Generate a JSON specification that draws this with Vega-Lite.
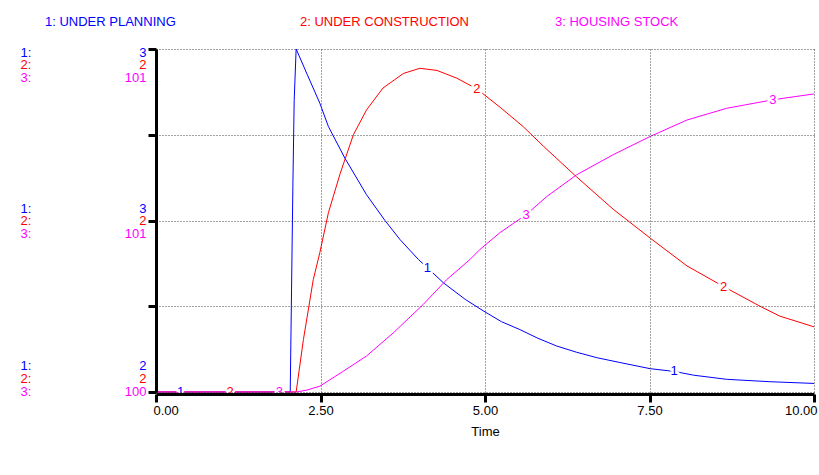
{
  "$schema": "https://vega.github.io/schema/vega-lite/v6.json",
  "width": 658,
  "height": 343,
  "autosize": "none",
  "padding": {"left": 156, "top": 49, "right": 5, "bottom": 83},
  "background": "white",
  "datasets": {
    "lines": [
      {"series": "1: UNDER PLANNING", "Time": 0, "value": 2},
      {"series": "1: UNDER PLANNING", "Time": 0.5, "value": 2},
      {"series": "1: UNDER PLANNING", "Time": 1, "value": 2},
      {"series": "1: UNDER PLANNING", "Time": 1.5, "value": 2},
      {"series": "1: UNDER PLANNING", "Time": 2.04, "value": 2},
      {"series": "1: UNDER PLANNING", "Time": 2.06, "value": 2.3},
      {"series": "1: UNDER PLANNING", "Time": 2.08, "value": 2.6},
      {"series": "1: UNDER PLANNING", "Time": 2.1, "value": 2.85},
      {"series": "1: UNDER PLANNING", "Time": 2.13, "value": 3},
      {"series": "1: UNDER PLANNING", "Time": 2.3, "value": 2.925},
      {"series": "1: UNDER PLANNING", "Time": 2.49, "value": 2.842},
      {"series": "1: UNDER PLANNING", "Time": 2.62, "value": 2.774},
      {"series": "1: UNDER PLANNING", "Time": 2.87, "value": 2.682},
      {"series": "1: UNDER PLANNING", "Time": 3.2, "value": 2.575},
      {"series": "1: UNDER PLANNING", "Time": 3.48, "value": 2.5},
      {"series": "1: UNDER PLANNING", "Time": 3.71, "value": 2.444},
      {"series": "1: UNDER PLANNING", "Time": 3.99, "value": 2.386},
      {"series": "1: UNDER PLANNING", "Time": 4.125, "value": 2.362},
      {"series": "1: UNDER PLANNING", "Time": 4.37, "value": 2.318},
      {"series": "1: UNDER PLANNING", "Time": 4.7, "value": 2.27},
      {"series": "1: UNDER PLANNING", "Time": 4.97, "value": 2.237},
      {"series": "1: UNDER PLANNING", "Time": 5.25, "value": 2.205},
      {"series": "1: UNDER PLANNING", "Time": 5.53, "value": 2.182},
      {"series": "1: UNDER PLANNING", "Time": 5.8, "value": 2.157},
      {"series": "1: UNDER PLANNING", "Time": 6.09, "value": 2.134},
      {"series": "1: UNDER PLANNING", "Time": 6.39, "value": 2.116},
      {"series": "1: UNDER PLANNING", "Time": 6.7, "value": 2.1},
      {"series": "1: UNDER PLANNING", "Time": 7.05, "value": 2.086},
      {"series": "1: UNDER PLANNING", "Time": 7.51, "value": 2.068},
      {"series": "1: UNDER PLANNING", "Time": 7.875, "value": 2.06},
      {"series": "1: UNDER PLANNING", "Time": 8.17, "value": 2.049},
      {"series": "1: UNDER PLANNING", "Time": 8.67, "value": 2.037},
      {"series": "1: UNDER PLANNING", "Time": 9.33, "value": 2.03},
      {"series": "1: UNDER PLANNING", "Time": 10, "value": 2.025},

      {"series": "2: UNDER CONSTRUCTION", "Time": 0, "value": 1.6},
      {"series": "2: UNDER CONSTRUCTION", "Time": 1, "value": 1.6},
      {"series": "2: UNDER CONSTRUCTION", "Time": 2.13, "value": 1.6},
      {"series": "2: UNDER CONSTRUCTION", "Time": 2.24, "value": 1.722},
      {"series": "2: UNDER CONSTRUCTION", "Time": 2.39, "value": 1.862},
      {"series": "2: UNDER CONSTRUCTION", "Time": 2.49, "value": 1.925},
      {"series": "2: UNDER CONSTRUCTION", "Time": 2.62, "value": 2.018},
      {"series": "2: UNDER CONSTRUCTION", "Time": 2.8, "value": 2.11},
      {"series": "2: UNDER CONSTRUCTION", "Time": 3.0, "value": 2.2},
      {"series": "2: UNDER CONSTRUCTION", "Time": 3.2, "value": 2.258},
      {"series": "2: UNDER CONSTRUCTION", "Time": 3.45, "value": 2.309},
      {"series": "2: UNDER CONSTRUCTION", "Time": 3.76, "value": 2.343},
      {"series": "2: UNDER CONSTRUCTION", "Time": 4.01, "value": 2.355},
      {"series": "2: UNDER CONSTRUCTION", "Time": 4.27, "value": 2.35},
      {"series": "2: UNDER CONSTRUCTION", "Time": 4.57, "value": 2.332},
      {"series": "2: UNDER CONSTRUCTION", "Time": 4.875, "value": 2.307},
      {"series": "2: UNDER CONSTRUCTION", "Time": 5.23, "value": 2.264},
      {"series": "2: UNDER CONSTRUCTION", "Time": 5.58, "value": 2.219},
      {"series": "2: UNDER CONSTRUCTION", "Time": 5.89, "value": 2.173},
      {"series": "2: UNDER CONSTRUCTION", "Time": 6.39, "value": 2.102},
      {"series": "2: UNDER CONSTRUCTION", "Time": 6.95, "value": 2.026},
      {"series": "2: UNDER CONSTRUCTION", "Time": 7.51, "value": 1.959},
      {"series": "2: UNDER CONSTRUCTION", "Time": 8.07, "value": 1.894},
      {"series": "2: UNDER CONSTRUCTION", "Time": 8.625, "value": 1.846},
      {"series": "2: UNDER CONSTRUCTION", "Time": 9.18, "value": 1.8},
      {"series": "2: UNDER CONSTRUCTION", "Time": 9.48, "value": 1.777},
      {"series": "2: UNDER CONSTRUCTION", "Time": 10, "value": 1.752},

      {"series": "3: HOUSING STOCK", "Time": 0, "value": 100},
      {"series": "3: HOUSING STOCK", "Time": 1, "value": 100},
      {"series": "3: HOUSING STOCK", "Time": 2.14, "value": 100},
      {"series": "3: HOUSING STOCK", "Time": 2.3, "value": 100.006},
      {"series": "3: HOUSING STOCK", "Time": 2.49, "value": 100.017},
      {"series": "3: HOUSING STOCK", "Time": 2.85, "value": 100.061},
      {"series": "3: HOUSING STOCK", "Time": 3.2, "value": 100.105},
      {"series": "3: HOUSING STOCK", "Time": 3.61, "value": 100.173},
      {"series": "3: HOUSING STOCK", "Time": 4.06, "value": 100.255},
      {"series": "3: HOUSING STOCK", "Time": 4.42, "value": 100.328},
      {"series": "3: HOUSING STOCK", "Time": 4.77, "value": 100.386},
      {"series": "3: HOUSING STOCK", "Time": 4.92, "value": 100.415},
      {"series": "3: HOUSING STOCK", "Time": 5.23, "value": 100.465},
      {"series": "3: HOUSING STOCK", "Time": 5.625, "value": 100.517},
      {"series": "3: HOUSING STOCK", "Time": 5.94, "value": 100.57},
      {"series": "3: HOUSING STOCK", "Time": 6.39, "value": 100.633},
      {"series": "3: HOUSING STOCK", "Time": 6.95, "value": 100.692},
      {"series": "3: HOUSING STOCK", "Time": 7.51, "value": 100.745},
      {"series": "3: HOUSING STOCK", "Time": 8.07, "value": 100.793},
      {"series": "3: HOUSING STOCK", "Time": 8.67, "value": 100.827},
      {"series": "3: HOUSING STOCK", "Time": 9.375, "value": 100.852},
      {"series": "3: HOUSING STOCK", "Time": 10, "value": 100.869}
    ],
    "labels": [
      {"series": "1: UNDER PLANNING", "label": "1", "Time": 0.375, "value": 2},
      {"series": "1: UNDER PLANNING", "label": "1", "Time": 4.125, "value": 2.362},
      {"series": "1: UNDER PLANNING", "label": "1", "Time": 7.875, "value": 2.06},
      {"series": "2: UNDER CONSTRUCTION", "label": "2", "Time": 1.125, "value": 1.6},
      {"series": "2: UNDER CONSTRUCTION", "label": "2", "Time": 4.875, "value": 2.307},
      {"series": "2: UNDER CONSTRUCTION", "label": "2", "Time": 8.625, "value": 1.846},
      {"series": "3: HOUSING STOCK", "label": "3", "Time": 1.875, "value": 100},
      {"series": "3: HOUSING STOCK", "label": "3", "Time": 5.625, "value": 100.517},
      {"series": "3: HOUSING STOCK", "label": "3", "Time": 9.375, "value": 100.852}
    ]
  },
  "data": {"name": "lines"},
  "encoding": {
    "x": {
      "field": "Time",
      "type": "quantitative",
      "scale": {"domain": [0, 10], "nice": false, "zero": false},
      "axis": {
        "title": "Time",
        "values": [0, 2.5, 5, 7.5, 10],
        "format": ".2f",
        "labelFlush": true,
        "labelFlushOffset": 3,
        "grid": true,
        "gridDash": [1, 2],
        "gridColor": "#444444",
        "tickSize": 8,
        "tickWidth": 3,
        "tickColor": "#000000",
        "domainColor": "#000000",
        "domainWidth": 3,
        "offset": 2,
        "labelPadding": 2,
        "titlePadding": 8,
        "zindex": 1
      }
    }
  },
  "layer": [
    {
      "mark": {"type": "point", "opacity": 0},
      "encoding": {
        "y": {
          "datum": 0,
          "type": "quantitative",
          "scale": {"domain": [0, 1], "nice": false, "zero": false},
          "axis": {
            "orient": "left",
            "values": [0, 0.25, 0.5, 0.75, 1],
            "labels": false,
            "title": null,
            "grid": true,
            "gridDash": [1, 2],
            "gridColor": "#444444",
            "ticks": true,
            "tickSize": 8,
            "tickWidth": 3,
            "tickColor": "#000000",
            "domain": true,
            "domainColor": "#000000",
            "domainWidth": 3,
            "zindex": 1
          }
        }
      }
    },
    {
      "transform": [{"filter": "datum.series == '1: UNDER PLANNING'"}],
      "mark": {"type": "line", "strokeWidth": 1},
      "encoding": {
        "y": {
          "field": "value", "type": "quantitative",
          "scale": {"domain": [2, 3], "nice": false, "zero": false},
          "axis": {
            "orient": "left", "values": [2, 2.5, 3], "format": ".0f", "title": null,
            "grid": false, "ticks": false, "tickSize": 0, "domain": false, "labelPadding": 10,
            "labelColor": "#0000ff",
            "labelOffset": {"condition": [{"test": "datum.value > 2.9", "value": 3}, {"test": "datum.value > 2.4", "value": -12}], "value": -27}
          }
        },
        "color": {
          "field": "series", "type": "nominal",
          "scale": {"domain": ["1: UNDER PLANNING", "2: UNDER CONSTRUCTION", "3: HOUSING STOCK"], "range": ["#0000ff", "#ff0000", "#ff00ff"]},
          "legend": {
            "title": null,
            "encode": {"labels": {"update": {"fill": {"scale": "color", "field": "value"}}}}
          }
        }
      }
    },
    {
      "transform": [{"filter": "datum.series == '2: UNDER CONSTRUCTION'"}],
      "mark": {"type": "line", "strokeWidth": 1},
      "encoding": {
        "y": {
          "field": "value", "type": "quantitative",
          "scale": {"domain": [1.6, 2.4], "nice": false, "zero": false},
          "axis": {
            "orient": "left", "values": [1.6, 2.0, 2.4], "format": ".0f", "title": null,
            "grid": false, "ticks": false, "tickSize": 0, "domain": false, "labelPadding": 10,
            "labelColor": "#ff0000",
            "labelOffset": {"condition": [{"test": "datum.value > 2.3", "value": 15}, {"test": "datum.value > 1.9", "value": 0}], "value": -14}
          }
        },
        "color": {"field": "series", "type": "nominal", "legend": null}
      }
    },
    {
      "transform": [{"filter": "datum.series == '3: HOUSING STOCK'"}],
      "mark": {"type": "line", "strokeWidth": 1},
      "encoding": {
        "y": {
          "field": "value", "type": "quantitative",
          "scale": {"domain": [100, 101], "nice": false, "zero": false},
          "axis": {
            "orient": "left", "values": [100, 100.5, 101], "format": ".0f", "title": null,
            "grid": false, "ticks": false, "tickSize": 0, "domain": false, "labelPadding": 10,
            "labelColor": "#ff00ff",
            "labelOffset": {"condition": [{"test": "datum.value > 100.9", "value": 28}, {"test": "datum.value > 100.4", "value": 13}], "value": -1}
          }
        },
        "color": {"field": "series", "type": "nominal", "legend": null}
      }
    },
    {
      "data": {"name": "labels"},
      "transform": [{"filter": "datum.series == '1: UNDER PLANNING'"}],
      "mark": {"type": "text", "fill": "white", "stroke": "white", "strokeWidth": 5, "strokeJoin": "round", "fontSize": 13, "baseline": "middle"},
      "encoding": {
        "y": {
          "field": "value", "type": "quantitative",
          "scale": {"domain": [2, 3], "nice": false, "zero": false},
          "axis": {
            "orient": "left", "values": [2, 2.5, 3], "labelExpr": "'1:'", "labelAlign": "left", "title": null,
            "grid": false, "ticks": false, "tickSize": 0, "domain": false, "labelPadding": 136,
            "labelColor": "#0000ff",
            "labelOffset": {"condition": [{"test": "datum.value > 2.9", "value": 3}, {"test": "datum.value > 2.4", "value": -12}], "value": -27}
          }
        },
        "text": {"field": "label"}
      }
    },
    {
      "data": {"name": "labels"},
      "transform": [{"filter": "datum.series == '2: UNDER CONSTRUCTION'"}],
      "mark": {"type": "text", "fill": "white", "stroke": "white", "strokeWidth": 5, "strokeJoin": "round", "fontSize": 13, "baseline": "middle"},
      "encoding": {
        "y": {
          "field": "value", "type": "quantitative",
          "scale": {"domain": [1.6, 2.4], "nice": false, "zero": false},
          "axis": {
            "orient": "left", "values": [1.6, 2.0, 2.4], "labelExpr": "'2:'", "labelAlign": "left", "title": null,
            "grid": false, "ticks": false, "tickSize": 0, "domain": false, "labelPadding": 136,
            "labelColor": "#ff0000",
            "labelOffset": {"condition": [{"test": "datum.value > 2.3", "value": 15}, {"test": "datum.value > 1.9", "value": 0}], "value": -14}
          }
        },
        "text": {"field": "label"}
      }
    },
    {
      "data": {"name": "labels"},
      "transform": [{"filter": "datum.series == '3: HOUSING STOCK'"}],
      "mark": {"type": "text", "fill": "white", "stroke": "white", "strokeWidth": 5, "strokeJoin": "round", "fontSize": 13, "baseline": "middle"},
      "encoding": {
        "y": {
          "field": "value", "type": "quantitative",
          "scale": {"domain": [100, 101], "nice": false, "zero": false},
          "axis": {
            "orient": "left", "values": [100, 100.5, 101], "labelExpr": "'3:'", "labelAlign": "left", "title": null,
            "grid": false, "ticks": false, "tickSize": 0, "domain": false, "labelPadding": 136,
            "labelColor": "#ff00ff",
            "labelOffset": {"condition": [{"test": "datum.value > 100.9", "value": 28}, {"test": "datum.value > 100.4", "value": 13}], "value": -1}
          }
        },
        "text": {"field": "label"}
      }
    },
    {
      "data": {"name": "labels"},
      "transform": [{"filter": "datum.series == '1: UNDER PLANNING'"}],
      "mark": {"type": "text", "fontSize": 13, "baseline": "middle"},
      "encoding": {
        "y": {"field": "value", "type": "quantitative", "scale": {"domain": [2, 3], "nice": false, "zero": false}, "axis": null},
        "text": {"field": "label"},
        "color": {"field": "series", "type": "nominal", "legend": null}
      }
    },
    {
      "data": {"name": "labels"},
      "transform": [{"filter": "datum.series == '2: UNDER CONSTRUCTION'"}],
      "mark": {"type": "text", "fontSize": 13, "baseline": "middle"},
      "encoding": {
        "y": {"field": "value", "type": "quantitative", "scale": {"domain": [1.6, 2.4], "nice": false, "zero": false}, "axis": null},
        "text": {"field": "label"},
        "color": {"field": "series", "type": "nominal", "legend": null}
      }
    },
    {
      "data": {"name": "labels"},
      "transform": [{"filter": "datum.series == '3: HOUSING STOCK'"}],
      "mark": {"type": "text", "fontSize": 13, "baseline": "middle"},
      "encoding": {
        "y": {"field": "value", "type": "quantitative", "scale": {"domain": [100, 101], "nice": false, "zero": false}, "axis": null},
        "text": {"field": "label"},
        "color": {"field": "series", "type": "nominal", "legend": null}
      }
    }
  ],
  "resolve": {"scale": {"y": "independent"}, "axis": {"y": "independent"}},
  "config": {
    "font": "Liberation Sans",
    "view": {"stroke": null},
    "axis": {
      "labelFont": "Liberation Sans",
      "labelFontSize": 13,
      "labelColor": "#000000",
      "titleFont": "Liberation Sans",
      "titleFontSize": 13,
      "titleFontWeight": "normal",
      "titleColor": "#000000"
    },
    "text": {"font": "Liberation Sans", "fontSize": 13},
    "legend": {
      "orient": "none",
      "legendX": -124,
      "legendY": -34,
      "direction": "horizontal",
      "columns": 3,
      "gridAlign": "all",
      "columnPadding": 72,
      "symbolSize": 0,
      "symbolOpacity": 0,
      "symbolStrokeWidth": 0,
      "labelOffset": 0,
      "labelFont": "Liberation Sans",
      "labelFontSize": 13,
      "labelLimit": 400,
      "padding": 0
    }
  }
}
